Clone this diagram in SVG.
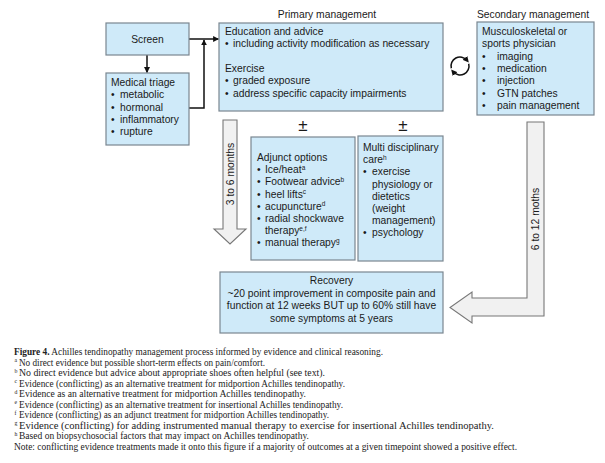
<svg xmlns="http://www.w3.org/2000/svg" width="605" height="463" viewBox="0 0 605 463">
<style>
.box{fill:#cfeaf9;stroke:#7a8690;stroke-width:1.2}
.big{fill:#f1f1f1;stroke:#777;stroke-width:1.1}
.t{font-family:"Liberation Sans",Arial,sans-serif;font-size:10.3px;fill:#1a1a1a}
.c{text-anchor:middle}
.sup{font-size:6.5px}
.pm{font-family:"Liberation Sans",Arial,sans-serif;font-size:17px;fill:#1a1a1a;text-anchor:middle}
.cap{font-family:"Liberation Serif","Times New Roman",serif;font-size:9.6px;fill:#222}
.capsup{font-family:"Liberation Serif","Times New Roman",serif;font-size:5.8px;fill:#222}
.ln{fill:none;stroke:#111;stroke-width:1.5}
</style>
<defs>
<marker id="ah" viewBox="0 0 10 10" refX="9" refY="5" markerWidth="6" markerHeight="6" markerUnits="userSpaceOnUse" orient="auto">
<path d="M0,0 L10,5 L0,10 z" fill="#111"/>
</marker>
<marker id="ah2" viewBox="0 0 10 10" refX="5" refY="5" markerWidth="6" markerHeight="6" markerUnits="userSpaceOnUse" orient="auto">
<path d="M0,0 L10,5 L0,10 z" fill="#111"/>
</marker>
</defs>
<rect width="605" height="463" fill="#fff"/>

<text class="t c" x="327" y="18">Primary management</text>
<text class="t c" x="533" y="18">Secondary management</text>

<g id="connectors">
<line class="ln" x1="147" y1="55" x2="147" y2="72.5" marker-end="url(#ah)"/>
<line class="ln" x1="189" y1="39" x2="218.5" y2="39" marker-end="url(#ah)"/>
<polyline class="ln" points="189,108 204,108 204,40" marker-end="url(#ah)"/>
</g>

<g id="screen">
<rect class="box" x="106" y="23" width="83" height="32"/>
<text class="t c" x="147.5" y="43">Screen</text>
</g>

<g id="triage">
<rect class="box" x="106" y="73" width="83" height="72"/>
<text class="t" x="111" y="86">Medical triage</text>
<text class="t" x="111" y="98.3">•<tspan x="120">metabolic</tspan></text>
<text class="t" x="111" y="110.6">•<tspan x="120">hormonal</tspan></text>
<text class="t" x="111" y="122.9">•<tspan x="120">inflammatory</tspan></text>
<text class="t" x="111" y="135.2">•<tspan x="120">rupture</tspan></text>
</g>

<g id="primary">
<rect class="box" x="219" y="23" width="224" height="88"/>
<text class="t" x="225" y="35">Education and advice</text>
<text class="t" x="225" y="47.3">•<tspan x="233">including activity modification as necessary</tspan></text>
<text class="t" x="225" y="72">Exercise</text>
<text class="t" x="225" y="84.3">•<tspan x="233">graded exposure</tspan></text>
<text class="t" x="225" y="96.6">•<tspan x="233">address specific capacity impairments</tspan></text>
</g>

<g id="cycle">
<path class="ln" d="M451.3,68.3 A9,9 0 0 1 466.9,60.2" marker-end="url(#ah2)"/>
<path class="ln" d="M468.7,63.7 A9,9 0 0 1 453.1,71.8" marker-end="url(#ah2)"/>
</g>

<g id="secondary">
<rect class="box" x="477" y="22" width="117" height="93"/>
<text class="t" x="482" y="35">Musculoskeletal or</text>
<text class="t" x="482" y="47.3">sports physician</text>
<text class="t" x="482" y="59.6">•<tspan x="497">imaging</tspan></text>
<text class="t" x="482" y="71.9">•<tspan x="497">medication</tspan></text>
<text class="t" x="482" y="84.2">•<tspan x="497">injection</tspan></text>
<text class="t" x="482" y="96.5">•<tspan x="497">GTN patches</tspan></text>
<text class="t" x="482" y="108.8">•<tspan x="497">pain management</tspan></text>
</g>

<g id="pm1"><text class="pm" x="303" y="131">±</text></g>
<g id="pm2"><text class="pm" x="403" y="131">±</text></g>

<g id="arrow-3-6">
<polygon class="big" points="223,120 237,120 237,229 246,229 230,244 214,229 223,229"/>
<text class="t c" transform="translate(230,174) rotate(-90)" x="0" y="3.6">3 to 6 months</text>
</g>

<g id="adjunct">
<rect class="box" x="251" y="137" width="104" height="123"/>
<text class="t" x="257" y="161">Adjunct options</text>
<text class="t" x="257" y="173.2">•<tspan x="265">Ice/heat</tspan><tspan class="sup" dy="-3.5">a</tspan></text>
<text class="t" x="257" y="185.4">•<tspan x="265">Footwear advice</tspan><tspan class="sup" dy="-3.5">b</tspan></text>
<text class="t" x="257" y="197.6">•<tspan x="265">heel lifts</tspan><tspan class="sup" dy="-3.5">c</tspan></text>
<text class="t" x="257" y="209.8">•<tspan x="265">acupuncture</tspan><tspan class="sup" dy="-3.5">d</tspan></text>
<text class="t" x="257" y="222">•<tspan x="265">radial shockwave</tspan></text>
<text class="t" x="265" y="234.2">therapy<tspan class="sup" dy="-3.5">e,f</tspan></text>
<text class="t" x="257" y="246.4">•<tspan x="265">manual therapy</tspan><tspan class="sup" dy="-3.5">g</tspan></text>
</g>

<g id="multi">
<rect class="box" x="358" y="136" width="85" height="125"/>
<text class="t" x="363" y="151">Multi disciplinary</text>
<text class="t" x="363" y="163.2">care<tspan class="sup" dy="-3.5">h</tspan></text>
<text class="t" x="363" y="175.4">•<tspan x="372">exercise</tspan></text>
<text class="t" x="372" y="187.6">physiology or</text>
<text class="t" x="372" y="199.8">dietetics</text>
<text class="t" x="372" y="212">(weight</text>
<text class="t" x="372" y="224.2">management)</text>
<text class="t" x="363" y="236.4">•<tspan x="372">psychology</tspan></text>
</g>

<g id="arrow-6-12">
<polygon class="big" points="527,122 544,122 544,316 472,316 472,323 450,307.5 472,292 472,298 527,298"/>
<text class="t c" transform="translate(535.5,219) rotate(-90)" x="0" y="3.6">6 to 12 moths</text>
</g>

<g id="recovery">
<rect class="box" x="220" y="272" width="223" height="61"/>
<text class="t c" x="331.5" y="284">Recovery</text>
<text class="t c" x="331.5" y="296.5">~20 point improvement in composite pain and</text>
<text class="t c" x="331.5" y="309">function at 12 weeks BUT up to 60% still have</text>
<text class="t c" x="331.5" y="321.5">some symptoms at 5 years</text>
</g>

<g id="caption">
<text class="cap" x="14" y="355" textLength="369" lengthAdjust="spacingAndGlyphs"><tspan font-weight="bold">Figure 4.</tspan> Achilles tendinopathy management process informed by evidence and clinical reasoning.</text>
<text class="capsup" x="14.5" y="362">a</text>
<text class="cap" x="19" y="365.5" textLength="246" lengthAdjust="spacingAndGlyphs">No direct evidence but possible short-term effects on pain/comfort.</text>
<text class="capsup" x="14.5" y="372.5">b</text>
<text class="cap" x="19" y="376" textLength="306" lengthAdjust="spacingAndGlyphs">No direct evidence but advice about appropriate shoes often helpful (see text).</text>
<text class="capsup" x="14.5" y="383">c</text>
<text class="cap" x="19" y="386.5" textLength="326" lengthAdjust="spacingAndGlyphs">Evidence (conflicting) as an alternative treatment for midportion Achilles tendinopathy.</text>
<text class="capsup" x="14.5" y="393.5">d</text>
<text class="cap" x="19" y="397" textLength="287" lengthAdjust="spacingAndGlyphs">Evidence as an alternative treatment for midportion Achilles tendinopathy.</text>
<text class="capsup" x="14.5" y="404">e</text>
<text class="cap" x="19" y="407.5" textLength="324" lengthAdjust="spacingAndGlyphs">Evidence (conflicting) as an alternative treatment for insertional Achilles tendinopathy.</text>
<text class="capsup" x="14.5" y="414.5">f</text>
<text class="cap" x="19" y="418" textLength="310" lengthAdjust="spacingAndGlyphs">Evidence (conflicting) as an adjunct treatment for midportion Achilles tendinopathy.</text>
<text class="capsup" x="14.5" y="425">g</text>
<text class="cap" x="19" y="428.5" textLength="475" lengthAdjust="spacingAndGlyphs">Evidence (conflicting) for adding instrumented manual therapy to exercise for insertional Achilles tendinopathy.</text>
<text class="capsup" x="14.5" y="435.5">h</text>
<text class="cap" x="19" y="439" textLength="290" lengthAdjust="spacingAndGlyphs">Based on biopsychosocial factors that may impact on Achilles tendinopathy.</text>
<text class="cap" x="14" y="449.5" textLength="503" lengthAdjust="spacingAndGlyphs">Note: conflicting evidence treatments made it onto this figure if a majority of outcomes at a given timepoint showed a positive effect.</text>
</g>
</svg>
